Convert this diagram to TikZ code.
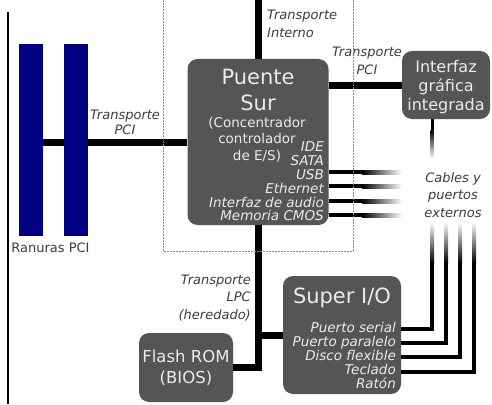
\documentclass[tikz,border=0pt]{standalone}
\usepackage{fontspec}
\setmainfont{DejaVu Sans}
\usepackage{tikz}
\usetikzlibrary{calc}

\definecolor{chipgray}{RGB}{85,85,85}
\definecolor{chiptext}{RGB}{235,235,235}
\definecolor{textgray}{RGB}{60,60,60}
\definecolor{slotblue}{RGB}{0,0,128}
\definecolor{dashgreen}{RGB}{95,165,95}

\tikzset{
	chip/.style= {fill=chipgray, rounded corners=10pt, inner sep=0pt},
	chiptxt/.style= {text=chiptext, align=center, inner sep=0pt},
	bus/.style= {line width=7pt},
	port/.style= {line width=4pt},
	bustxt/.style= {text=textgray, font=\itshape\fontsize{13}{17.5}\selectfont, inner sep=0pt},
	slot/.style= {fill=slotblue, minimum width=24pt, minimum height=192pt, inner sep=0pt},
}

\begin{document}
\begin{tikzpicture}[x=1pt, y=-1pt]
	\useasboundingbox (0,0) rectangle (492,404);
	% borde izquierdo
	\draw [line width=2pt] (8,12) -- (8,404);

	% ranuras PCI
	\node [slot] (slotA) at (31,140) {};
	\node [slot] (slotB) at (76,140) {};
	\node [text=textgray, font=\fontsize{13}{15}\selectfont, inner sep=0pt] (slotlbl) at (50.5,248) {Ranuras PCI};

	% chips
	\node [chip, minimum width=141pt, minimum height=166pt] (sur) at (258,142) {};
	\node [chip, minimum width=88pt, minimum height=68pt] (gfx) at (446,85) {};
	\node [chip, minimum width=118pt, minimum height=118pt] (superio) at (342,335) {};
	\node [chip, minimum width=94pt, minimum height=69pt] (flash) at (186,367.5) {};

	% textos de los chips
	\node [chiptxt, font=\fontsize{21}{26}\selectfont] (surname) at (258,90) {Puente\\Sur};
	\node [chiptxt, font=\fontsize{13.5}{16.5}\selectfont] (surdesc) at (257,139.5) {(Concentrador\\controlador\\de E/S)};
	\node [chiptxt, align=right, anchor=east, font=\itshape\fontsize{13.5}{13.8}\selectfont] (surports) at (324,181.5) {IDE\\SATA\\USB\\Ethernet\\Interfaz de audio\\Memoria CMOS};
	\node [chiptxt, font=\fontsize{16}{19}\selectfont] (gfxname) at (446,87) {Interfaz\\gráfica\\integrada};
	\node [chiptxt, font=\fontsize{21}{26}\selectfont] (ioname) at (342,298) {Super I/O};
	\node [chiptxt, align=right, anchor=east, font=\itshape\fontsize{13.5}{14}\selectfont] (ioports) at (396,355) {Puerto serial\\Puerto paralelo\\Disco flexible\\Teclado\\Ratón};
	\node [chiptxt, font=\fontsize{16.5}{21}\selectfont] (flashname) at (186,368) {Flash ROM\\(BIOS)};

	% transportes
	\coordinate (intern) at (258,0);
	\draw [bus] (intern) -- (sur.north);
	\draw [bus] (slotA.east |- sur.west) -- (slotB.west |- sur.west);
	\draw [bus] (slotB.east |- sur.west) -- (sur.west);
	\draw [bus] (gfx.west -| sur.east) -- (gfx.west);
	\draw [bus] (sur.south) -- (sur.south |- flash.east) -- (flash.east);
	\draw [bus] (sur.south |- superio.west) -- (superio.west);

	\node [bustxt, align=left, anchor=west] (internlbl) at (267,24) {Transporte\\Interno};
	\node [bustxt, align=center, font=\itshape\fontsize{13}{15}\selectfont] (pcilbl) at (125,122.5) {Transporte\\PCI};
	\node [bustxt, align=center] (gfxlbl) at (367,61) {Transporte\\PCI};
	\node [bustxt, align=right, anchor=east] (lpclbl) at (251,298) {Transporte\\LPC\\(heredado)};
	\node [bustxt, align=center] (extlbl) at (453,195) {Cables y\\puertos\\externos};

	% puertos que se desvanecen
	\foreach \yy in {172,186,201,215} {
		\fill (sur.east |- 0,\yy-2) rectangle (362,\yy+2);
		\shade [left color=black, right color=white] (362,\yy-2) rectangle (402,\yy+2);
	}
	\fill ([xshift=-15.5pt]gfx.south) rectangle ++(3,11);
	\shade [top color=black, bottom color=white] ([xshift=-15.5pt,yshift=-11pt]gfx.south) rectangle ++(3,28);

	\foreach \yy/\xx in {329/432, 343/446, 357/460, 372/474} {
		\draw [port] (superio.east |- 0,\yy) -| (\xx,262);
		\shade [top color=white, bottom color=black] (\xx-2,222) rectangle (\xx+2,263);
	}

	% caja del puente sur
	\draw [dashgreen, line width=0.8pt, dash pattern=on 2pt off 1pt] (163,0) -- (163,251) -- (353,251) -- (353,0);
\end{tikzpicture}
\end{document}
